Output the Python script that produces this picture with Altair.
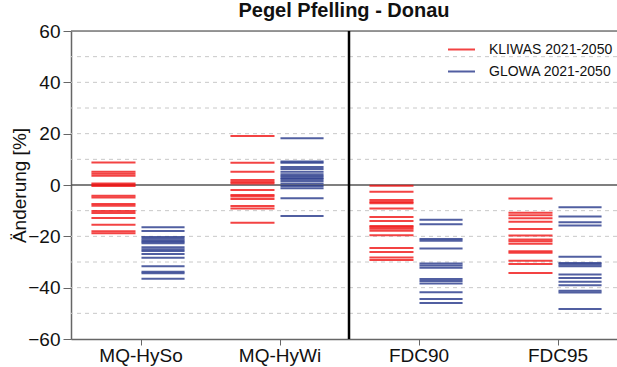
import altair as alt
import pandas as pd

categories = ["MQ-HySo", "MQ-HyWi", "FDC90", "FDC95"]
series_names = ["KLIWAS 2021-2050", "GLOWA 2021-2050"]

kliwas_mqhyso = [8.8, 5.2, 4.4, 3.6, 0.6, 0.1, -0.4, -4.2, -4.9, -7.4, -8.1, -10.1, -10.9, -12.9, -15.5, -18.0, -18.8]
glowa_mqhyso = [-16.5, -17.9, -20.3, -20.9, -21.6, -22.1, -22.7, -24.3, -25.0, -25.7, -26.9, -28.3, -31.7, -33.8, -34.4, -36.5]

kliwas_mqhywi = [19.1, 8.7, 5.2, 1.9, 1.2, 0.6, -1.9, -3.9, -4.5, -5.5, -8.2, -9.2, -14.7]
glowa_mqhywi = [18.2, 9.2, 8.7, 7.0, 6.2, 5.2, 4.2, 3.5, 2.8, 2.3, 1.6, 0.6, -0.4, -1.3, -5.2, -12.1]

kliwas_fdc90 = [-0.3, -2.6, -5.8, -6.6, -7.1, -9.2, -12.5, -14.0, -16.0, -16.5, -17.0, -17.8, -19.6, -24.5, -26.1, -28.2, -29.2]
glowa_fdc90 = [-13.5, -15.3, -21.0, -21.7, -24.7, -30.6, -31.4, -32.2, -36.6, -37.4, -38.4, -41.8, -44.4, -46.0]

kliwas_fdc95 = [-5.3, -10.8, -11.8, -13.0, -14.3, -17.1, -19.7, -21.2, -21.9, -22.9, -25.8, -26.4, -29.5, -30.8, -34.3]
glowa_fdc95 = [-8.7, -12.3, -14.5, -15.8, -28.0, -30.4, -31.0, -31.7, -34.9, -36.2, -37.7, -39.1, -41.2, -41.9, -48.3]

y_ticks = [-60, -40, -20, 0, 20, 40, 60]
grid_values = [50, 40, 30, 20, 10, -10, -20, -30, -40, -50]

groups = [
    (kliwas_mqhyso, glowa_mqhyso),
    (kliwas_mqhywi, glowa_mqhywi),
    (kliwas_fdc90, glowa_fdc90),
    (kliwas_fdc95, glowa_fdc95),
]

offsets = {series_names[0]: (-0.353, -0.036), series_names[1]: (0.007, 0.317)}

rows = []
for i, (k, g) in enumerate(groups, start=1):
    for name, vals in ((series_names[0], k), (series_names[1], g)):
        a, b = offsets[name]
        for v in vals:
            rows.append({"pos": i + a, "pos2": i + b, "value": v, "series": name})
df = pd.DataFrame(rows)

FONT = "Liberation Sans"
xscale = alt.Scale(domain=[0.5, 4.428], nice=False, zero=False)
yscale = alt.Scale(domain=[-60, 60], nice=False)

label_expr = "[''," + ",".join("'" + c + "'" for c in categories) + "][datum.value]"

y_axis = alt.Axis(
    values=y_ticks,
    title="Änderung [%]",
    titleFontSize=19,
    titleFont=FONT,
    titleFontWeight="normal",
    titleColor="#111",
    titleX=-42,
    titleY=154,
    titleAngle=270,
    titleBaseline="bottom",
    titleAlign="center",
    grid=False,
    tickSize=8,
    tickColor="#666",
    domainColor="#666",
    domainWidth=1.5,
    labelFontSize=19,
    labelFont=FONT,
    labelColor="#111",
    labelPadding=3,
)

x_axis = alt.Axis(
    values=[1, 2, 3, 4],
    labelExpr=label_expr,
    title=None,
    grid=False,
    tickSize=6,
    tickColor="#666",
    domainColor="#666",
    domainWidth=1.5,
    labelFontSize=19,
    labelFont=FONT,
    labelColor="#111",
    labelPadding=1,
)

grid = alt.Chart(pd.DataFrame({"g": grid_values})).mark_rule(
    color="#c8c8c8", strokeWidth=1, strokeDash=[4, 4]
).encode(y=alt.Y("g:Q", scale=yscale, axis=y_axis))

ticks = alt.Chart(df).mark_rule(strokeWidth=2, opacity=0.8).encode(
    x=alt.X("pos:Q", scale=xscale, axis=x_axis),
    x2="pos2:Q",
    y=alt.Y("value:Q", scale=yscale, axis=y_axis),
    color=alt.Color(
        "series:N",
        scale=alt.Scale(domain=series_names, range=["#f01414", "#26378a"]),
        legend=alt.Legend(
            orient="none",
            legendX=376,
            legendY=4,
            title=None,
            symbolType="stroke",
            symbolSize=729,
            symbolStrokeWidth=2,
            labelFontSize=14,
            labelFont=FONT,
            labelColor="#111",
            labelOffset=13,
            rowPadding=-9,
            padding=0,
        ),
    ),
)

zero_line = alt.Chart().mark_rule(color="#555", strokeWidth=1.5).encode(y=alt.datum(0))
top_line = alt.Chart().mark_rule(color="#777", strokeWidth=1.5).encode(y=alt.datum(60))
divider = alt.Chart().mark_rule(color="#000", strokeWidth=2.5).encode(x=alt.datum(2.5))

chart = alt.layer(grid, zero_line, top_line, ticks, divider).properties(
    width=546,
    height=308,
    autosize=alt.AutoSizeParams(type="none"),
    padding={"left": 71, "top": 31, "right": 0, "bottom": 28},
    title=alt.TitleParams(
        "Pegel Pfelling - Donau",
        fontSize=20,
        fontWeight="bold",
        font=FONT,
        color="#111",
        anchor="middle",
        offset=1,
    ),
).configure_view(stroke=None).configure(background="white")

chart.save("out.html", embed_options={"renderer": "svg", "actions": False})
